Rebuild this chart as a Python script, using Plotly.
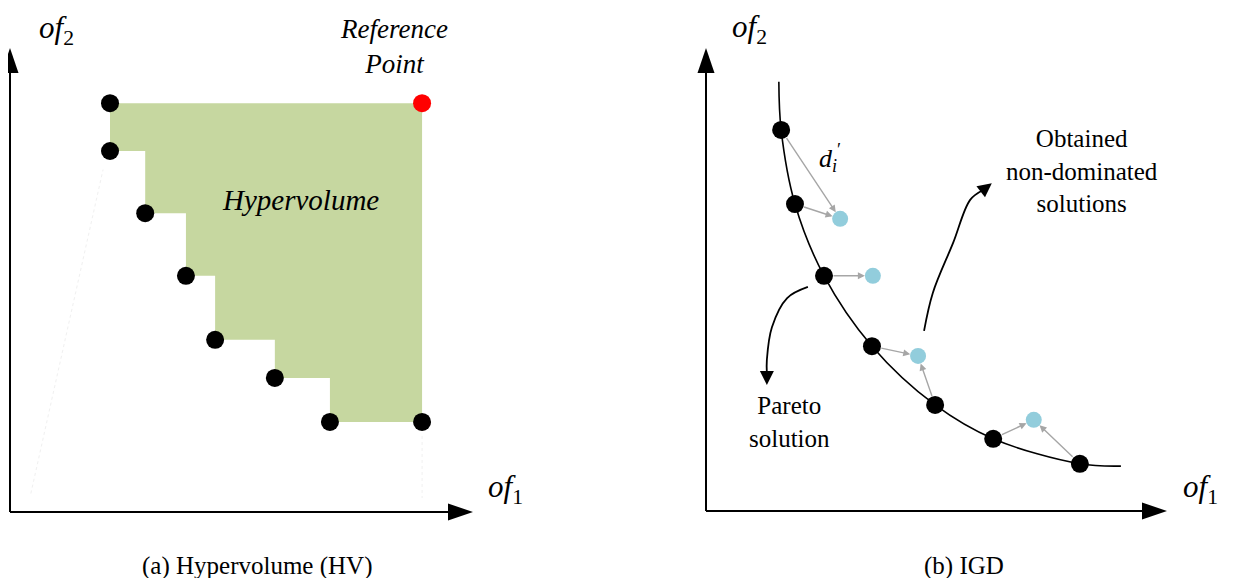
import numpy as np
import plotly.graph_objects as go

# ---------------- data (diagram units, axis length = 100) ----------------
# Panel (a): Hypervolume
hv_x = [21.6, 21.6, 29.2, 38.0, 44.3, 57.2, 69.1]
hv_y = [88.1, 77.8, 64.4, 50.9, 37.1, 28.9, 19.4]
ref_x, ref_y = 89.0, 88.1

# Panel (b): IGD
pareto_x = [16.3, 19.3, 25.6, 36.0, 49.7, 62.3, 81.1]
pareto_y = [82.3, 66.3, 50.8, 35.6, 22.9, 15.6, 10.2]
front_x = [15.8] + pareto_x + [90.0]
front_y = [92.7] + pareto_y + [9.7]
obtained_x = [29.1, 36.2, 46.0, 71.1]
obtained_y = [63.1, 50.8, 33.5, 19.7]
links = [(0, 0), (1, 0), (2, 1), (3, 2), (4, 2), (5, 3), (6, 3)]  # pareto -> obtained

pareto_arrow_x = [22.1, 17.6, 14.3, 13.2, 13.2]
pareto_arrow_y = [48.4, 46.0, 39.7, 32.6, 27.2]
obtained_arrow_x = [47.3, 49.2, 53.6, 57.3, 62.0]
obtained_arrow_y = [38.9, 47.1, 57.9, 67.2, 70.8]

# ---------------- layout geometry ----------------
PAGE_W, PAGE_H = 1234, 586
OFF = 8                      # default page margin around the figure
W, H = PAGE_W - 2 * OFF, PAGE_H - 2 * OFF
# panel origins (page pixels) & px per unit
A_OX, A_OY, A_SX, A_SY = 10 - OFF, 512 - OFF, 4.63, 4.64
B_OX, B_OY, B_SX, B_SY = 706 - OFF, 511 - OFF, 4.61, 4.63
SPLIT = 617 - OFF

FONT = "Liberation Serif, Times New Roman, serif"
BLACK = "#000000"
GREEN = "#c6d7a0"
BLUE = "#92cddc"
GREY = "#a6a6a6"

fig = go.Figure()

# HV staircase polygon built from the points
poly_x = [hv_x[0], ref_x, ref_x]
poly_y = [hv_y[0], ref_y, hv_y[-1]]
for i in range(len(hv_x) - 1, 0, -1):
    poly_x += [hv_x[i], hv_x[i]]
    poly_y += [hv_y[i], hv_y[i - 1]]
fig.add_trace(go.Scatter(x=poly_x, y=poly_y, fill="toself", fillcolor=GREEN,
                         mode="lines", line=dict(width=0), xaxis="x", yaxis="y",
                         hoverinfo="skip", showlegend=False))

# faint guide lines
fig.add_trace(go.Scatter(x=[4.5, hv_x[1] - 1.5], y=[4.0, hv_y[1] - 4], mode="lines",
                         line=dict(color="#f0f0f0", width=1, dash="dot"),
                         xaxis="x", yaxis="y", showlegend=False, hoverinfo="skip"))
fig.add_trace(go.Scatter(x=[ref_x, ref_x], y=[hv_y[-1] - 3, 3], mode="lines",
                         line=dict(color="#f0f0f0", width=1, dash="dot"),
                         xaxis="x", yaxis="y", showlegend=False, hoverinfo="skip"))

# HV points
fig.add_trace(go.Scatter(x=hv_x + [ref_x], y=hv_y + [hv_y[-1]], mode="markers",
                         marker=dict(color=BLACK, size=18), xaxis="x", yaxis="y",
                         cliponaxis=False, showlegend=False))
fig.add_trace(go.Scatter(x=[ref_x], y=[ref_y], mode="markers",
                         marker=dict(color="#ff0000", size=18), xaxis="x", yaxis="y",
                         cliponaxis=False, showlegend=False))

# Pareto front curve
fig.add_trace(go.Scatter(x=front_x, y=front_y, mode="lines",
                         line=dict(color=BLACK, width=1.6, shape="spline", smoothing=1.0),
                         xaxis="x2", yaxis="y2", showlegend=False, hoverinfo="skip"))


def arrow_path(xs, ys, sx, sy, L, xr, yr):
    dx = (xs[-1] - xs[-2]) * sx
    dy = (ys[-1] - ys[-2]) * sy
    n = np.hypot(dx, dy)
    ux, uy = dx / n, dy / n
    bx = xs[-1] - ux * L / sx
    by = ys[-1] - uy * L / sy
    fig.add_trace(go.Scatter(x=list(xs[:-1]) + [bx], y=list(ys[:-1]) + [by], mode="lines",
                             line=dict(color=BLACK, width=1.8, shape="spline", smoothing=1.0),
                             xaxis=xr, yaxis=yr, showlegend=False, hoverinfo="skip"))
    return ux, uy


def tri(xr, yr, x, y, ux, uy, L, hw):
    px, py = -ux, -uy
    nx, ny = -uy, ux
    b1 = (px * L + nx * hw, py * L + ny * hw)
    b2 = (px * L - nx * hw, py * L - ny * hw)
    fig.add_shape(type="path", xref=xr, yref=yr, xsizemode="pixel", ysizemode="pixel",
                  xanchor=x, yanchor=y,
                  path=f"M0,0 L{b1[0]:.2f},{b1[1]:.2f} L{b2[0]:.2f},{b2[1]:.2f} Z",
                  fillcolor=BLACK, line=dict(width=0), layer="above")


u = arrow_path(pareto_arrow_x, pareto_arrow_y, B_SX, B_SY, 12, "x2", "y2")
tri("x2", "y2", pareto_arrow_x[-1], pareto_arrow_y[-1], u[0], u[1], 14, 7)
u = arrow_path(obtained_arrow_x, obtained_arrow_y, B_SX, B_SY, 12, "x2", "y2")
tri("x2", "y2", obtained_arrow_x[-1], obtained_arrow_y[-1], u[0], u[1], 14, 7)

# grey distance arrows
for pi, oi in links:
    fig.add_annotation(x=obtained_x[oi], y=obtained_y[oi], ax=pareto_x[pi], ay=pareto_y[pi],
                       xref="x2", yref="y2", axref="x2", ayref="y2", text="",
                       showarrow=True, arrowhead=2, arrowsize=1, arrowwidth=1.4,
                       arrowcolor=GREY, standoff=8, startstandoff=8)

# points of panel b
fig.add_trace(go.Scatter(x=obtained_x, y=obtained_y, mode="markers",
                         marker=dict(color=BLUE, size=16), xaxis="x2", yaxis="y2",
                         cliponaxis=False, showlegend=False))
fig.add_trace(go.Scatter(x=pareto_x, y=pareto_y, mode="markers",
                         marker=dict(color=BLACK, size=18), xaxis="x2", yaxis="y2",
                         cliponaxis=False, showlegend=False))

# axes with arrow heads
for xr, yr in (("x", "y"), ("x2", "y2")):
    fig.add_shape(type="line", xref=xr, yref=yr, x0=0, y0=0, x1=0, y1=97,
                  line=dict(color=BLACK, width=2))
    fig.add_shape(type="line", xref=xr, yref=yr, x0=0, y0=0, x1=97, y1=0,
                  line=dict(color=BLACK, width=2))
    tri(xr, yr, 0, 100, 0, 1, 25, 8.5)
    tri(xr, yr, 100, 0, 1, 0, 25, 8.5)


def txt(px, py, s, size, **kw):
    fig.add_annotation(x=(px - OFF) / W, y=1 - (py - OFF) / H, xref="paper", yref="paper",
                       text=s, showarrow=False, xanchor="center", yanchor="middle",
                       font=dict(family=FONT, size=size, color=BLACK), **kw)


txt(56, 30, "<i>of</i><sub>2</sub>", 31)
txt(505, 489, "<i>of</i><sub>1</sub>", 31)
txt(749, 29, "<i>of</i><sub>2</sub>", 31)
txt(1200, 489, "<i>of</i><sub>1</sub>", 31)
txt(394, 47, "<i>Reference<br>Point</i>", 27)
txt(300, 200, "<i>Hypervolume</i>", 29)
txt(830, 158, "<i>d</i><sub><i>i</i></sub><sup>′</sup>", 26)
txt(1082, 171, "Obtained<br>non-dominated<br>solutions", 25)
txt(789, 422, "Pareto<br>solution", 25)
txt(257, 566, "(a) Hypervolume (HV)", 25)
txt(964, 566, "(b) IGD", 25)

ax_common = dict(visible=False, showgrid=False, zeroline=False, fixedrange=True)
fig.update_layout(
    width=W, height=H, margin=dict(l=0, r=0, t=0, b=0),
    paper_bgcolor="white", plot_bgcolor="white", showlegend=False,
    font=dict(family=FONT),
    xaxis=dict(domain=[0, SPLIT / W], range=[(0 - A_OX) / A_SX, (SPLIT - A_OX) / A_SX], **ax_common),
    yaxis=dict(domain=[0, 1], anchor="x", range=[(A_OY - H) / A_SY, A_OY / A_SY], **ax_common),
    xaxis2=dict(domain=[SPLIT / W, 1], anchor="y2", range=[(SPLIT - B_OX) / B_SX, (W - B_OX) / B_SX], **ax_common),
    yaxis2=dict(domain=[0, 1], anchor="x2", range=[(B_OY - H) / B_SY, B_OY / B_SY], **ax_common),
)

fig.write_html("out.html")
